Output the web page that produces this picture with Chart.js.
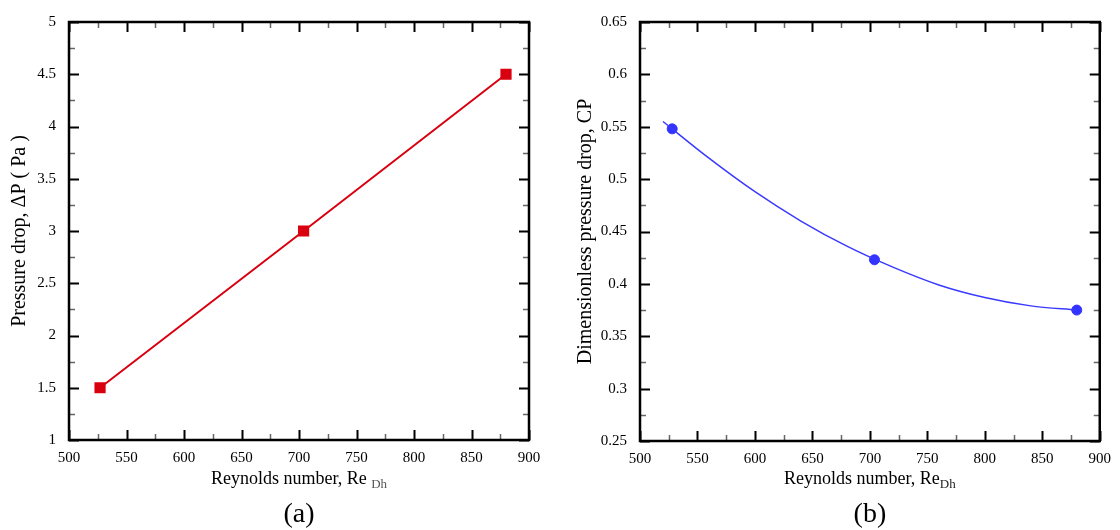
<!DOCTYPE html>
<html>
<head>
<meta charset="utf-8">
<script src="https://cdn.jsdelivr.net/npm/chart.js@4/dist/chart.umd.min.js"></script>
<style>
  html, body { margin: 0; padding: 0; background: #fff; }
  .wrap { position: relative; width: 1120px; height: 530px; }
  .panel { position: absolute; top: 0; width: 560px; height: 530px; }
</style>
</head>
<body>
<div class="wrap">
  <div class="panel" style="left:0"><canvas id="chart-a" width="560" height="530"></canvas></div>
  <div class="panel" style="left:560px"><canvas id="chart-b" width="560" height="530"></canvas></div>
</div>
<script>
// panel (a): pressure drop vs Reynolds number
const reA = [527, 704, 880];
const pressureDrop = [1.5, 3.0, 4.5];

// panel (b): dimensionless pressure drop, simulated points and fitted curve
const reB = [528, 704, 880];
const cpValues = [0.548, 0.423, 0.375];
const fitRe = [520, 560, 600, 640, 680, 720, 760, 800, 840, 880];
const fitCp = [0.555, 0.52, 0.488, 0.46, 0.436, 0.416, 0.399, 0.387, 0.379, 0.375];

// axis tick labels
const reTicks = [500, 550, 600, 650, 700, 750, 800, 850, 900];
const dpTicks = [1, 1.5, 2, 2.5, 3, 3.5, 4, 4.5, 5];
const cpTicks = [0.25, 0.3, 0.35, 0.4, 0.45, 0.5, 0.55, 0.6, 0.65];

const SERIF = "'Liberation Serif', 'Times New Roman', serif";

const toPoints = (xs, ys) => xs.map((x, i) => ({x, y: ys[i]}));
const midpoints = arr => arr.slice(1).map((v, i) => (v + arr[i]) / 2);
const plainLabel = v => String(Number(v.toFixed(3)));

// box frame with inward major/minor ticks on all four sides, plus titles
const frameTicks = {
    id: 'frameTicks',
    afterDraw(chart, args, opts) {
        const {ctx, chartArea: {left, right, top, bottom}, scales: {x, y}} = chart;
        ctx.save();

        const tickSet = (vals, len, color, width, horiz) => {
            ctx.strokeStyle = color;
            ctx.lineWidth = width;
            vals.forEach(v => {
                ctx.beginPath();
                if (horiz) {
                    const px = Math.round(x.getPixelForValue(v)) + 0.5;
                    ctx.moveTo(px, bottom); ctx.lineTo(px, bottom - len);
                    ctx.moveTo(px, top); ctx.lineTo(px, top + len);
                } else {
                    const py = Math.round(y.getPixelForValue(v)) + 0.5;
                    ctx.moveTo(left, py); ctx.lineTo(left + len, py);
                    ctx.moveTo(right, py); ctx.lineTo(right - len, py);
                }
                ctx.stroke();
            });
        };
        tickSet(midpoints(opts.xTicks), 6, '#666', 1.5, true);
        tickSet(midpoints(opts.yTicks), 6, '#666', 1.5, false);
        tickSet(opts.xTicks, 10, '#000', 2, true);
        tickSet(opts.yTicks, 10, '#000', 2, false);

        ctx.strokeStyle = '#000';
        ctx.lineWidth = 2.5;
        ctx.strokeRect(left, top, right - left, bottom - top);

        // x title with subscript
        ctx.fillStyle = '#000';
        ctx.textBaseline = 'alphabetic';
        ctx.font = `13px ${SERIF}`;
        const subW = ctx.measureText(opts.xSub).width;
        ctx.font = `18px ${SERIF}`;
        const mainW = ctx.measureText(opts.xTitle).width;
        const cx = (left + right) / 2;
        const startX = cx - (mainW + subW) / 2;
        ctx.textAlign = 'left';
        ctx.fillText(opts.xTitle, startX, 484);
        ctx.font = `13px ${SERIF}`;
        ctx.fillStyle = opts.subColor;
        ctx.fillText(opts.xSub, startX + mainW, 488);

        // y title
        ctx.fillStyle = '#000';
        ctx.font = `20px ${SERIF}`;
        ctx.textAlign = 'center';
        ctx.textBaseline = 'middle';
        ctx.save();
        ctx.translate(opts.yTitleX, (top + bottom) / 2);
        ctx.rotate(-Math.PI / 2);
        ctx.fillText(opts.yTitle, 0, 0);
        ctx.restore();

        // panel caption
        ctx.font = `28px ${SERIF}`;
        ctx.textBaseline = 'alphabetic';
        ctx.fillText(opts.caption, cx, 522);
        ctx.restore();
    }
};

const makeScales = (yTicks, yMin, yMax, yWidth, xHeight) => ({
    x: {
        type: 'linear',
        min: 500,
        max: 900,
        afterBuildTicks: s => { s.ticks = reTicks.map(v => ({value: v})); },
        afterFit: s => { s.height = xHeight; },
        grid: {display: false, drawTicks: false},
        border: {display: false},
        ticks: {color: '#000', padding: 9, font: {family: SERIF, size: 15}, maxRotation: 0, callback: plainLabel}
    },
    y: {
        type: 'linear',
        min: yMin,
        max: yMax,
        afterBuildTicks: s => { s.ticks = yTicks.map(v => ({value: v})); },
        afterFit: s => { s.width = yWidth; },
        grid: {display: false, drawTicks: false},
        border: {display: false},
        ticks: {color: '#000', padding: 13, font: {family: SERIF, size: 15}, callback: plainLabel}
    }
});

new Chart(document.getElementById('chart-a'), {
    type: 'scatter',
    data: {
        datasets: [{
            data: toPoints(reA, pressureDrop),
            showLine: true,
            borderColor: '#d9000f',
            backgroundColor: '#d9000f',
            borderWidth: 2,
            pointStyle: 'rect',
            pointRadius: 6.5,
            tension: 0
        }]
    },
    options: {
        responsive: false,
        animation: false,
        layout: {padding: {left: 0, right: 31, top: 15, bottom: 0}},
        plugins: {
            legend: {display: false},
            tooltip: {enabled: false},
            frameTicks: {
                xTicks: reTicks, yTicks: dpTicks,
                xTitle: 'Reynolds number, Re ', xSub: 'Dh', subColor: '#555',
                yTitle: 'Pressure drop, \u0394P ( Pa )', yTitleX: 20,
                caption: '(a)'
            }
        },
        scales: makeScales(dpTicks, 1, 5, 69, 90)
    },
    plugins: [frameTicks]
});

new Chart(document.getElementById('chart-b'), {
    type: 'scatter',
    data: {
        datasets: [{
            data: toPoints(fitRe, fitCp),
            showLine: true,
            borderColor: '#3a3aff',
            borderWidth: 1.5,
            pointRadius: 0,
            cubicInterpolationMode: 'monotone'
        }, {
            data: toPoints(reB, cpValues),
            showLine: false,
            backgroundColor: '#3333ff',
            borderColor: '#3333ff',
            pointStyle: 'circle',
            pointRadius: 5
        }]
    },
    options: {
        responsive: false,
        animation: false,
        layout: {padding: {left: 0, right: 12, top: 19, bottom: 0}},
        plugins: {
            legend: {display: false},
            tooltip: {enabled: false},
            frameTicks: {
                xTicks: reTicks, yTicks: cpTicks,
                xTitle: 'Reynolds number, Re', xSub: 'Dh', subColor: '#222',
                yTitle: 'Dimensionless pressure drop, CP', yTitleX: 26,
                caption: '(b)'
            }
        },
        scales: makeScales(cpTicks, 0.25, 0.65, 80, 89)
    },
    plugins: [frameTicks]
});
</script>
</body>
</html>
